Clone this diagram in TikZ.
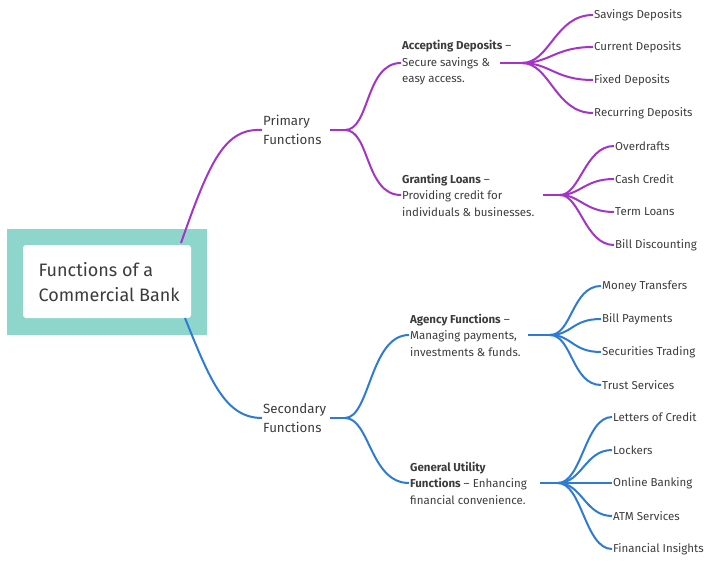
\documentclass[tikz,border=0pt]{standalone}
\usepackage{fontspec}
\setmainfont{Fira Sans}
\definecolor{pur}{HTML}{A334C6}
\definecolor{blu}{HTML}{2E7BD2}
\definecolor{teal1}{HTML}{8ED6CC}
\definecolor{txt}{HTML}{3C3C3C}
\begin{document}
\begin{tikzpicture}[x=1pt,y=-1pt,
  lf/.style={anchor=west,inner sep=1pt,font=\fontsize{11.5}{14}\selectfont,text=txt},
  mid/.style={anchor=west,inner sep=1pt,align=left,font=\fontsize{11.5}{16.5}\selectfont,text=txt},
  top/.style={anchor=west,inner sep=1pt,align=left,font=\fontsize{13.3}{19}\selectfont,text=txt},
  cp/.style={pur,line width=2pt},
  cb/.style={blu,line width=2pt}]
\useasboundingbox (0,0) rectangle (720,564);
\fill[teal1] (7,229) rectangle (207,335);
\node[fill=white,rounded corners=3pt,minimum width=168pt,minimum height=73pt,inner sep=0pt] (root) at (107,281.5) {};
\node[anchor=west,align=left,font=\fontsize{18}{25}\selectfont,text=txt] (rt) at (35,282) {Functions of a\\Commercial Bank};
\coordinate (r1) at (181,243);
\coordinate (r2) at (185,318);
% primary
\node[top] (pf) at (262,130) {Primary\\Functions};
\draw[cp] (r1) .. controls (210,160) and (225,128) .. (pf.west);
\coordinate (pb) at (345,130);
\draw[cp] (330,130) -- (pb);
\node[mid] (ad) at (401,63) {\textbf{Accepting Deposits} –\\Secure savings \&\\easy access.};
\node[mid] (gl) at (401,195) {\textbf{Granting Loans} –\\Providing credit for\\individuals \& businesses.};
\draw[cp] (pb) .. controls (370,130) and (365,63) .. (ad.west);
\draw[cp] (pb) .. controls (370,130) and (365,195) .. (gl.west);
\coordinate (adb) at (522,63);
\draw[cp] (500,63) -- (adb);
\foreach \t/\y [count=\i] in {Savings Deposits/15,Current Deposits/47,Fixed Deposits/80,Recurring Deposits/113}{
  \node[lf] (a\i) at (593,\y) {\t};
  \draw[cp] (adb) .. controls (550,63) and (555,\y) .. (a\i.west);}
\coordinate (glb) at (560,195);
\draw[cp] (543,195) -- (glb);
\foreach \t/\y [count=\i] in {Overdrafts/146,Cash Credit/179,Term Loans/212,Bill Discounting/245}{
  \node[lf] (g\i) at (614,\y) {\t};
  \draw[cp] (glb) .. controls (580,195) and (585,\y) .. (g\i.west);}
% secondary
\node[top] (sf) at (262,418) {Secondary\\Functions};
\draw[cb] (r2) .. controls (210,380) and (225,418) .. (sf.west);
\coordinate (sb) at (345,418);
\draw[cb] (330,418) -- (sb);
\node[mid] (ag) at (409,335) {\textbf{Agency Functions} –\\Managing payments,\\investments \& funds.};
\node[mid] (gu) at (409,483) {\textbf{General Utility}\\\textbf{Functions} – Enhancing\\financial convenience.};
\draw[cb] (sb) .. controls (370,418) and (370,335) .. (ag.west);
\draw[cb] (sb) .. controls (370,418) and (370,483) .. (gu.west);
\coordinate (agb) at (550,335);
\draw[cb] (528,335) -- (agb);
\foreach \t/\y [count=\i] in {Money Transfers/286,Bill Payments/319,Securities Trading/352,Trust Services/385}{
  \node[lf] (m\i) at (601,\y) {\t};
  \draw[cb] (agb) .. controls (572,335) and (572,\y) .. (m\i.west);}
\coordinate (gub) at (558,483);
\draw[cb] (540,483) -- (gub);
\foreach \t/\y [count=\i] in {Letters of Credit/417,Lockers/450,Online Banking/483,ATM Services/516,Financial Insights/549}{
  \node[lf] (u\i) at (612,\y) {\t};
  \draw[cb] (gub) .. controls (582,483) and (585,\y) .. (u\i.west);}
\end{tikzpicture}
\end{document}
